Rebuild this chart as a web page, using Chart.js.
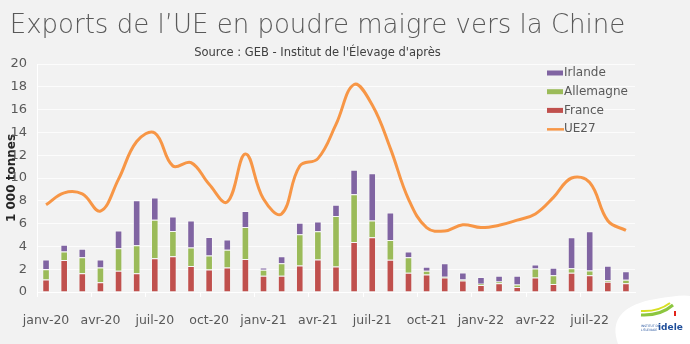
<!DOCTYPE html>
<html lang="fr">
<head>
<meta charset="utf-8">
<title>Exports de l'UE en poudre maigre vers la Chine</title>
<script src="https://cdn.jsdelivr.net/npm/chart.js@4/dist/chart.umd.min.js"></script>
<style>
  html, body { margin: 0; padding: 0; background: #F2F2F2; }
  #wrap { width: 690px; height: 344px; position: relative; }
</style>
</head>
<body>
<div id="wrap"><canvas id="myChart"></canvas></div>
<script>
// mois de janv-20 à sept-22
const mois = [
  "janv-20", "févr-20", "mars-20", "avr-20", "mai-20", "juin-20", "juil-20", "août-20", "sept-20", "oct-20", "nov-20", "déc-20",
  "janv-21", "févr-21", "mars-21", "avr-21", "mai-21", "juin-21", "juil-21", "août-21", "sept-21", "oct-21", "nov-21", "déc-21",
  "janv-22", "févr-22", "mars-22", "avr-22", "mai-22", "juin-22", "juil-22", "août-22", "sept-22"
];

// 1 000 tonnes
const france = [1.1, 2.8, 1.65, 0.85, 1.87, 1.65, 2.96, 3.14, 2.27, 1.98, 2.15, 2.9,
  1.43, 1.43, 2.33, 2.85, 2.24, 4.39, 4.8, 2.82, 1.69, 1.54, 1.28, 1.0,
  0.61, 0.76, 0.44, 1.28, 0.7, 1.69, 1.48, 0.91, 0.76];
const allemagne = [0.9, 0.75, 1.4, 1.3, 1.97, 2.45, 3.38, 2.21, 1.63, 1.22, 1.55, 2.8,
  0.52, 1.1, 2.73, 2.47, 4.42, 4.19, 1.48, 1.75, 1.36, 0.33, 0.05, 0.1,
  0.12, 0.17, 0.21, 0.79, 0.76, 0.4, 0.41, 0.11, 0.32];
const irlande = [0.85, 0.6, 0.75, 0.7, 1.55, 3.95, 1.94, 1.28, 2.38, 1.63, 0.9, 1.4,
  0.2, 0.61, 1.02, 0.87, 0.99, 2.14, 4.13, 2.41, 0.5, 0.34, 1.2, 0.6,
  0.58, 0.5, 0.78, 0.35, 0.67, 2.71, 3.43, 1.28, 0.75];
const ue27 = [7.65, 8.7, 8.6, 7.1, 9.9, 13.2, 13.95, 11.05, 11.35, 9.45, 7.9, 12.1,
  8.15, 6.85, 11.05, 11.7, 14.7, 18.2, 16.4, 12.6, 8.15, 5.65, 5.35, 5.9,
  5.65, 5.85, 6.3, 6.85, 8.3, 10.0, 9.6, 6.25, 5.4];

const yTicks = [0, 2, 4, 6, 8, 10, 12, 14, 16, 18, 20];

const gris = "#595959";
const police = "'DejaVu Sans', sans-serif";

// legende dessinée dans la zone du graphique (en haut à droite)
const legendeInterne = {
  id: "legendeInterne",
  afterDraw(chart) {
    const ctx = chart.ctx;
    const area = chart.chartArea;
    const ordre = [3, 2, 1, 0]; // Irlande, Allemagne, France, UE27
    const x0 = area.right - 88;
    let y = area.top + 9;
    ctx.save();
    ctx.font = "12px " + police;
    ctx.textBaseline = "middle";
    ordre.forEach(i => {
      const ds = chart.data.datasets[i];
      if (ds.type === "line") {
        ctx.fillStyle = ds.borderColor;
        ctx.fillRect(x0, y - 1, 17, 2.5);
      } else {
        ctx.fillStyle = ds.backgroundColor;
        ctx.fillRect(x0, y - 2.5, 16, 5);
      }
      ctx.fillStyle = gris;
      ctx.fillText(ds.label, x0 + 17, y);
      y += 18.7;
    });
    ctx.restore();
  }
};

// petit logo idele en bas à droite
const logo = {
  id: "logo",
  afterDraw(chart) {
    const ctx = chart.ctx;
    ctx.save();
    ctx.fillStyle = "#FFFFFF";
    ctx.beginPath();
    ctx.moveTo(618, 344);
    ctx.quadraticCurveTo(606, 310, 650, 300);
    ctx.quadraticCurveTo(682, 294, 690, 296);
    ctx.lineTo(690, 344);
    ctx.closePath();
    ctx.fill();
    ctx.strokeStyle = "#8CC63F";
    ctx.lineWidth = 3;
    ctx.beginPath();
    ctx.moveTo(641, 315);
    ctx.quadraticCurveTo(660, 316, 673, 305);
    ctx.stroke();
    ctx.strokeStyle = "#D7DF23";
    ctx.lineWidth = 2;
    ctx.beginPath();
    ctx.moveTo(641, 311);
    ctx.quadraticCurveTo(658, 312, 670, 303);
    ctx.stroke();
    ctx.fillStyle = "#E2231A";
    ctx.fillRect(674, 311, 2, 5);
    ctx.fillStyle = "#1F4E9A";
    ctx.font = "bold 9px " + police;
    ctx.textBaseline = "middle";
    ctx.fillText("idele", 658, 328);
    ctx.font = "3px " + police;
    ctx.fillText("INSTITUT DE", 641, 326);
    ctx.fillText("L'ÉLEVAGE", 641, 330);
    ctx.restore();
  }
};

const myChart = new Chart("myChart", {
  type: "bar",
  data: {
    labels: mois,
    datasets: [
      {
        type: "line",
        label: "UE27",
        data: ue27,
        borderColor: "#F79646",
        borderWidth: 3,
        pointRadius: 0,
        tension: 0.4,
        fill: false,
        order: 0,
        stack: "ue"
      },
      {
        label: "France",
        data: france,
        backgroundColor: "#C0504D",
        borderColor: "rgba(255,255,255,0.35)",
        borderWidth: 1,
        order: 1,
        stack: "pays"
      },
      {
        label: "Allemagne",
        data: allemagne,
        backgroundColor: "#9BBB59",
        borderColor: "rgba(255,255,255,0.35)",
        borderWidth: 1,
        order: 1,
        stack: "pays"
      },
      {
        label: "Irlande",
        data: irlande,
        backgroundColor: "#8064A2",
        borderColor: "rgba(255,255,255,0.35)",
        borderWidth: 1,
        order: 1,
        stack: "pays"
      }
    ]
  },
  options: {
    responsive: true,
    maintainAspectRatio: false,
    animation: false,
    datasets: {
      bar: { categoryPercentage: 1, barPercentage: 0.42 }
    },
    layout: { padding: { left: 0, right: 55, top: 9, bottom: 0 } },
    plugins: {
      legend: { display: false },
      tooltip: { enabled: false },
      title: {
        display: true,
        text: "Exports de l’UE en poudre maigre vers la Chine",
        color: gris,
        font: { family: police, size: 26, weight: 200 },
        padding: { top: 2, bottom: 4 }
      },
      subtitle: {
        display: true,
        text: "Source : GEB - Institut de l'Élevage d'après",
        color: "#404040",
        font: { family: police, size: 11.5 },
        padding: { top: 0, bottom: 4 }
      }
    },
    scales: {
      x: {
        stacked: true,
        grid: {
          drawOnChartArea: false,
          drawTicks: true,
          tickLength: 5,
          color: ctx => (ctx.index % 3 === 0 ? "#FFFFFF" : "rgba(0,0,0,0)")
        },
        border: { color: "#FFFFFF" },
        ticks: {
          autoSkip: false,
          maxRotation: 0,
          padding: 16,
          color: gris,
          font: { family: police, size: 12.5 },
          callback: function (val, i) { return i % 3 === 0 ? mois[i] : ""; }
        },
        afterFit(s) { s.height = 52; }
      },
      y: {
        stacked: true,
        min: 0,
        max: 20,
        afterBuildTicks(s) { s.ticks = yTicks.map(v => ({ value: v })); },
        grid: { color: "rgba(255,255,255,0.75)", drawTicks: false },
        border: { color: "#FFFFFF" },
        ticks: {
          padding: 10,
          color: gris,
          font: { family: police, size: 13 }
        },
        title: {
          display: true,
          text: "1 000 tonnes",
          color: "#262626",
          font: { family: police, size: 12, weight: "bold" },
          padding: { top: 5, bottom: 0 }
        },
        afterFit(s) { s.width = 37; }
      }
    }
  },
  plugins: [legendeInterne, logo]
});
</script>
</body>
</html>
